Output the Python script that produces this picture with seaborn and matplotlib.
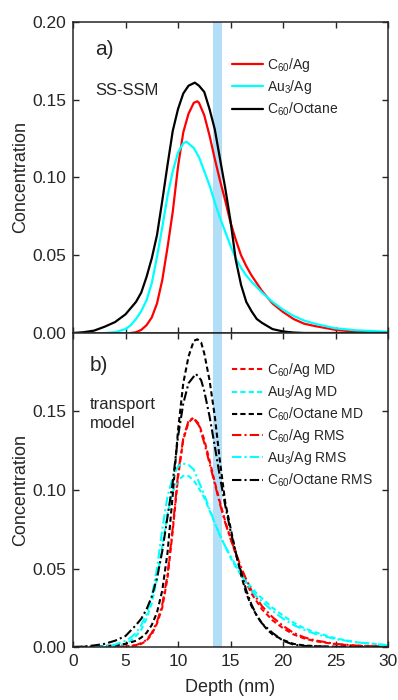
import matplotlib
matplotlib.use("Agg")
import matplotlib.pyplot as plt
import numpy as np
import pandas as pd
import seaborn as sns

# ---- panel a) SS-SSM curves (read off the figure) ----
x_c60ag = [5.5, 6, 6.5, 7, 7.5, 8, 8.5, 9, 9.5, 10, 10.5, 11, 11.5, 11.84, 12, 12.5, 13, 13.5, 14, 14.5,
           15, 15.5, 16, 16.5, 17, 18, 19, 20, 21, 22, 23, 25, 27, 30]
y_c60ag = [0, 0.0005, 0.002, 0.005, 0.010, 0.019, 0.034, 0.055, 0.078, 0.107, 0.129, 0.141, 0.148, 0.149, 0.148,
           0.140, 0.127, 0.112, 0.098, 0.085, 0.071, 0.060, 0.050, 0.043, 0.037, 0.027, 0.019, 0.0135, 0.009,
           0.006, 0.0045, 0.002, 0.0008, 0.0003]

x_au3ag = [3, 4, 5, 5.5, 6, 6.5, 7, 7.5, 8, 8.5, 9, 9.5, 10, 10.5, 10.8, 11.5, 12, 12.5, 13, 13.5, 14, 14.5,
           15, 15.5, 16, 16.5, 17, 18, 19, 20, 21, 22, 23, 25, 27, 30]
y_au3ag = [0, 0.0005, 0.0025, 0.005, 0.009, 0.014, 0.021, 0.032, 0.049, 0.068, 0.088, 0.104, 0.116, 0.122, 0.123,
           0.119, 0.113, 0.104, 0.095, 0.084, 0.074, 0.065, 0.056, 0.048, 0.042, 0.037, 0.033, 0.026, 0.020,
           0.015, 0.011, 0.008, 0.006, 0.003, 0.0017, 0.0008]

x_c60oct = [0, 1, 2, 3, 4, 5, 6, 6.5, 7, 7.5, 8, 8.5, 9, 9.5, 10, 10.5, 11, 11.6, 12, 12.5, 13, 13.5, 14, 14.5,
            15, 15.5, 16, 16.5, 17, 17.5, 18, 19, 20, 21, 22, 30]
y_c60oct = [0, 0.0005, 0.0015, 0.004, 0.007, 0.012, 0.020, 0.026, 0.036, 0.048, 0.063, 0.085, 0.108, 0.130,
            0.144, 0.154, 0.159, 0.161, 0.159, 0.155, 0.144, 0.131, 0.112, 0.093, 0.072, 0.047, 0.031, 0.020,
            0.014, 0.009, 0.0065, 0.0025, 0.001, 0.0003, 0, 0]

# ---- panel b) transport model curves ----
x_c60ag_md = [4, 5, 6, 6.5, 7, 7.5, 8, 8.5, 9, 9.5, 10, 10.5, 11, 11.46, 12, 12.5, 13, 13.5, 14, 14.5, 15, 15.5,
              16, 16.5, 17, 17.5, 18, 19, 20, 21, 22, 23, 25, 27, 30]
y_c60ag_md = [0, 0.0003, 0.001, 0.002, 0.004, 0.008, 0.015, 0.025, 0.044, 0.074, 0.108, 0.132, 0.143, 0.146,
              0.142, 0.132, 0.119, 0.105, 0.092, 0.080, 0.069, 0.059, 0.049, 0.041, 0.034, 0.029, 0.024, 0.017,
              0.012, 0.008, 0.0055, 0.0038, 0.0018, 0.0008, 0.0002]
x_c60ag_rms = x_c60ag_md
y_c60ag_rms = [0, 0.0004, 0.0012, 0.0025, 0.0045, 0.009, 0.016, 0.027, 0.046, 0.076, 0.110, 0.133, 0.144, 0.146,
               0.141, 0.130, 0.117, 0.104, 0.091, 0.079, 0.069, 0.060, 0.051, 0.043, 0.036, 0.031, 0.026, 0.019,
               0.0135, 0.009, 0.0062, 0.0043, 0.002, 0.0009, 0.0002]

x_au3ag_md = [3, 4, 5, 5.5, 6, 6.5, 7, 7.5, 8, 8.5, 9, 9.5, 10, 10.5, 11, 11.5, 12, 12.5, 13, 13.5, 14, 14.5,
              15, 15.5, 16, 16.5, 17, 17.5, 18, 19, 20, 21, 22, 23, 25, 27, 30]
y_au3ag_md = [0, 0.0005, 0.002, 0.004, 0.007, 0.011, 0.018, 0.028, 0.043, 0.064, 0.085, 0.099, 0.106, 0.109,
              0.109, 0.106, 0.101, 0.095, 0.087, 0.079, 0.071, 0.064, 0.057, 0.051, 0.046, 0.042, 0.038, 0.034,
              0.031, 0.025, 0.020, 0.0155, 0.012, 0.0095, 0.0055, 0.003, 0.0012]
x_au3ag_rms = [2, 3, 4, 5, 5.5, 6, 6.5, 7, 7.5, 8, 8.5, 9, 9.5, 10, 10.4, 11, 11.5, 12, 12.5, 13, 13.5, 14, 14.5,
               15, 15.5, 16, 16.5, 17, 17.5, 18, 19, 20, 21, 22, 23, 25, 27, 30]
y_au3ag_rms = [0, 0.0005, 0.0015, 0.004, 0.006, 0.009, 0.014, 0.021, 0.032, 0.050, 0.075, 0.096, 0.108, 0.115,
               0.117, 0.116, 0.113, 0.105, 0.097, 0.088, 0.079, 0.071, 0.064, 0.058, 0.052, 0.046, 0.041, 0.036,
               0.032, 0.029, 0.023, 0.018, 0.014, 0.011, 0.0085, 0.005, 0.003, 0.001]

x_c60oct_md = [0, 2, 4, 5, 6, 6.5, 7, 7.5, 8, 8.5, 9, 9.5, 10, 10.5, 11, 11.5, 11.84, 12.2, 12.5, 13, 13.5, 14,
               14.5, 15, 15.5, 16, 16.5, 17, 17.5, 18, 18.5, 19, 20, 21, 22, 24, 30]
y_c60oct_md = [0, 0.0003, 0.001, 0.002, 0.004, 0.006, 0.009, 0.014, 0.022, 0.036, 0.060, 0.097, 0.138, 0.168,
               0.185, 0.195, 0.196, 0.194, 0.187, 0.170, 0.147, 0.118, 0.092, 0.076, 0.060, 0.046, 0.034, 0.026,
               0.020, 0.015, 0.011, 0.008, 0.0045, 0.002, 0.001, 0.0002, 0]
x_c60oct_rms = [0, 1, 2, 3, 4, 5, 6, 6.5, 7, 7.5, 8, 8.5, 9, 9.5, 10, 10.5, 11, 11.7, 12.2, 12.5, 13, 13.5, 14,
                14.5, 15, 15.5, 16, 16.5, 17, 17.5, 18, 19, 20, 21, 22, 25, 30]
y_c60oct_rms = [0, 0.0003, 0.001, 0.002, 0.004, 0.007, 0.014, 0.018, 0.024, 0.032, 0.044, 0.061, 0.083, 0.105,
                0.134, 0.155, 0.168, 0.174, 0.170, 0.163, 0.147, 0.128, 0.108, 0.090, 0.074, 0.060, 0.048, 0.036,
                0.027, 0.020, 0.015, 0.009, 0.004, 0.0015, 0.0007, 0.0001, 0]

band = (13.3, 14.15)
yticks_a = [0, 0.05, 0.10, 0.15, 0.20]
yticks_b = [0, 0.05, 0.10, 0.15]
xticks = [0, 5, 10, 15, 20, 25, 30]

sns.set_style("ticks")
plt.rcParams['font.family'] = ['Liberation Sans', 'DejaVu Sans']
plt.rcParams['mathtext.default'] = 'regular'

dash = (0, (2.5, 1.5))
dashdot = (0, (4.5, 1.5, 1, 1.5))

fig = plt.figure(figsize=(3.98, 7.0), dpi=100)
ax1 = fig.add_axes([0.1834, 0.5243, 0.7916, 0.4443])
ax2 = fig.add_axes([0.1834, 0.0757, 0.7916, 0.4486])

top_series = [
    (x_c60ag, y_c60ag, 'red', r'C$_{60}$/Ag'),
    (x_au3ag, y_au3ag, 'cyan', r'Au$_{3}$/Ag'),
    (x_c60oct, y_c60oct, 'black', r'C$_{60}$/Octane'),
]
for xs, ys, c, lab in top_series:
    sns.lineplot(x=xs, y=ys, color=c, lw=1.6, label=lab, ax=ax1)

bottom_series = [
    (x_c60ag_md, y_c60ag_md, 'red', dash, r'C$_{60}$/Ag MD'),
    (x_au3ag_md, y_au3ag_md, 'cyan', dash, r'Au$_{3}$/Ag MD'),
    (x_c60oct_md, y_c60oct_md, 'black', dash, r'C$_{60}$/Octane MD'),
    (x_c60ag_rms, y_c60ag_rms, 'red', dashdot, r'C$_{60}$/Ag RMS'),
    (x_au3ag_rms, y_au3ag_rms, 'cyan', dashdot, r'Au$_{3}$/Ag RMS'),
    (x_c60oct_rms, y_c60oct_rms, 'black', dashdot, r'C$_{60}$/Octane RMS'),
]
for xs, ys, c, ls, lab in bottom_series:
    sns.lineplot(x=xs, y=ys, color=c, lw=1.5, linestyle=ls, label=lab, ax=ax2)

for ax in (ax1, ax2):
    ax.axvspan(band[0], band[1], color='#b3def7', lw=0, zorder=0)
    ax.set_xlim(0, 30)
    ax.set_ylim(0, 0.20)
    ax.set_xticks(xticks)
    ax.tick_params(direction='in', top=True, right=True, length=4.5, width=1, labelsize=12.5, pad=5)
    for s in ax.spines.values():
        s.set_linewidth(1.1)
    ax.set_ylabel('Concentration', fontsize=13, labelpad=2)

ax1.set_yticks(yticks_a)
ax1.set_yticklabels(['0.00', '0.05', '0.10', '0.15', '0.20'])
ax1.tick_params(labelbottom=False)
ax1.set_xlabel('')
ax2.set_yticks(yticks_b)
ax2.set_yticklabels(['0.00', '0.05', '0.10', '0.15'])
ax2.set_xlabel('Depth (nm)', fontsize=13, labelpad=7)

ax1.legend(loc='upper left', bbox_to_anchor=(0.505, 0.89), frameon=False, fontsize=10,
           handlelength=2.2, handletextpad=0.3, labelspacing=0.3, borderpad=0, borderaxespad=0)
ax2.legend(loc='upper left', bbox_to_anchor=(0.505, 0.91), frameon=False, fontsize=10,
           handlelength=2.2, handletextpad=0.3, labelspacing=0.3, borderpad=0, borderaxespad=0)

ax1.text(0.07, 0.91, 'a)', transform=ax1.transAxes, fontsize=15, va='center', ha='left')
ax1.text(0.07, 0.781, 'SS-SSM', transform=ax1.transAxes, fontsize=12, va='center', ha='left')
ax2.text(0.054, 0.898, 'b)', transform=ax2.transAxes, fontsize=15, va='center', ha='left')
ax2.text(0.054, 0.795, 'transport\nmodel', transform=ax2.transAxes, fontsize=12, va='top', ha='left',
         linespacing=1.3)

fig.savefig('out.png', dpi=100)
